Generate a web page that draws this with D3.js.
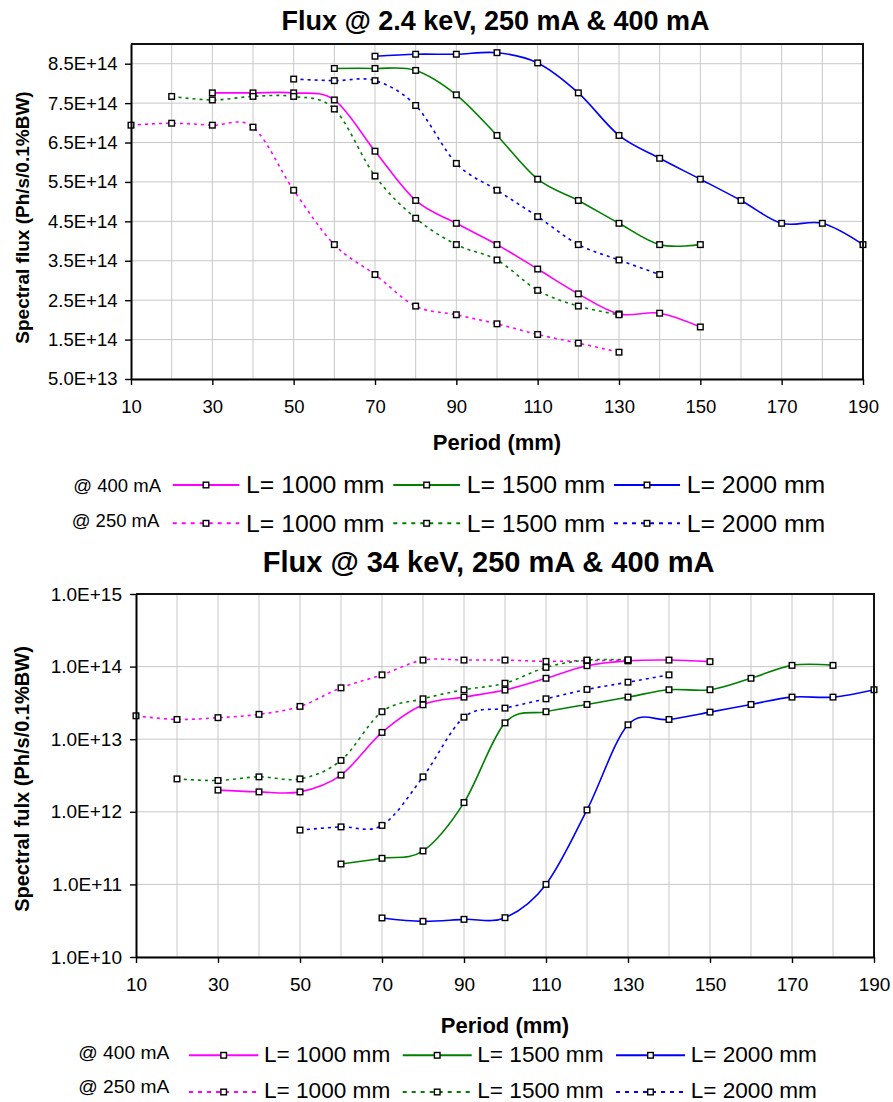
<!DOCTYPE html>
<html>
<head>
<meta charset="utf-8">
<script src="https://cdn.jsdelivr.net/npm/d3@7"></script>
<style>
  html, body { margin: 0; padding: 0; background: #fff; }
  svg { display: block; font-family: "Liberation Sans", Arial, Helvetica, sans-serif; }
</style>
</head>
<body>
<svg id="chart" width="893" height="1102"></svg>
<script>
// ---------- Flux @ 2.4 keV (Ph/s/0.1%BW) ----------
const lowPeriod400L1000 = [30, 40, 50, 60, 70, 80, 90, 100, 110, 120, 130, 140, 150];
const lowFlux400L1000   = [7.76e14, 7.76e14, 7.76e14, 7.58e14, 6.28e14, 5.03e14, 4.45e14, 3.91e14, 3.29e14, 2.66e14, 2.15e14, 2.17e14, 1.82e14];
const lowPeriod400L1500 = [60, 70, 80, 90, 100, 110, 120, 130, 140, 150];
const lowFlux400L1500   = [8.38e14, 8.38e14, 8.33e14, 7.71e14, 6.68e14, 5.57e14, 5.03e14, 4.45e14, 3.91e14, 3.91e14];
const lowPeriod400L2000 = [70, 80, 90, 100, 110, 120, 130, 140, 150, 160, 170, 180, 190];
const lowFlux400L2000   = [8.69e14, 8.74e14, 8.74e14, 8.78e14, 8.52e14, 7.76e14, 6.68e14, 6.10e14, 5.57e14, 5.03e14, 4.45e14, 4.45e14, 3.91e14];
const lowPeriod250L1000 = [10, 20, 30, 40, 50, 60, 70, 80, 90, 100, 110, 120, 130];
const lowFlux250L1000   = [6.94e14, 6.99e14, 6.94e14, 6.89e14, 5.29e14, 3.91e14, 3.15e14, 2.35e14, 2.13e14, 1.90e14, 1.63e14, 1.41e14, 1.18e14];
const lowPeriod250L1500 = [20, 30, 40, 50, 60, 70, 80, 90, 100, 110, 120, 130];
const lowFlux250L1500   = [7.67e14, 7.58e14, 7.67e14, 7.67e14, 7.35e14, 5.65e14, 4.58e14, 3.91e14, 3.52e14, 2.75e14, 2.35e14, 2.13e14];
const lowPeriod250L2000 = [50, 60, 70, 80, 90, 100, 110, 120, 130, 140];
const lowFlux250L2000   = [8.11e14, 8.07e14, 8.07e14, 7.44e14, 5.97e14, 5.29e14, 4.62e14, 3.91e14, 3.52e14, 3.15e14];

// ---------- Flux @ 34 keV (Ph/s/0.1%BW) ----------
const highPeriod400L1000 = [30, 40, 50, 60, 70, 80, 90, 100, 110, 120, 130, 140, 150];
const highFlux400L1000   = [1.99e12, 1.88e12, 1.88e12, 3.2e12, 1.24e13, 2.98e13, 3.8e13, 4.75e13, 6.9e13, 1.03e14, 1.2e14, 1.23e14, 1.17e14];
const highPeriod400L1500 = [60, 70, 80, 90, 100, 110, 120, 130, 140, 150, 160, 170, 180];
const highFlux400L1500   = [1.91e11, 2.29e11, 2.89e11, 1.34e12, 1.68e13, 2.39e13, 3.01e13, 3.8e13, 4.8e13, 4.8e13, 6.9e13, 1.04e14, 1.04e14];
const highPeriod400L2000 = [70, 80, 90, 100, 110, 120, 130, 140, 150, 160, 170, 180, 190];
const highFlux400L2000   = [3.45e10, 3.1e10, 3.3e10, 3.48e10, 1.0e11, 1.06e12, 1.58e13, 1.87e13, 2.36e13, 3.01e13, 3.8e13, 3.8e13, 4.8e13];
const highPeriod250L1000 = [10, 20, 30, 40, 50, 60, 70, 80, 90, 100, 110, 120, 130];
const highFlux250L1000   = [2.1e13, 1.87e13, 1.98e13, 2.2e13, 2.83e13, 5.1e13, 7.7e13, 1.23e14, 1.23e14, 1.23e14, 1.18e14, 1.21e14, 1.22e14];
const highPeriod250L1500 = [20, 30, 40, 50, 60, 70, 80, 90, 100, 110, 120, 130];
const highFlux250L1500   = [2.84e12, 2.7e12, 3.03e12, 2.84e12, 5.1e12, 2.39e13, 3.6e13, 4.8e13, 5.9e13, 9.75e13, 1.23e14, 1.24e14];
const highPeriod250L2000 = [50, 60, 70, 80, 90, 100, 110, 120, 130, 140];
const highFlux250L2000   = [5.6e11, 6.2e11, 6.5e11, 3.03e12, 2.01e13, 2.68e13, 3.6e13, 4.85e13, 6.1e13, 7.7e13];

// ---------- axes ----------
const periodTicks = [10, 30, 50, 70, 90, 110, 130, 150, 170, 190];
const periodGrid  = [20, 30, 40, 50, 60, 70, 80, 90, 100, 110, 120, 130, 140, 150, 160, 170, 180];
const lowFluxTicks  = [5e13, 1.5e14, 2.5e14, 3.5e14, 4.5e14, 5.5e14, 6.5e14, 7.5e14, 8.5e14];
const highFluxTicks = [1e10, 1e11, 1e12, 1e13, 1e14, 1e15];

// ---------- legend ----------
const lengthLabels = ["L= 1000 mm", "L= 1500 mm", "L= 2000 mm"];
const currentLabels = ["@ 400 mA", "@ 250 mA"];

const MAGENTA = "#ff00ff", GREEN = "#008000", BLUE = "#0000ff";
const DOTS = "3,4";
const lengthColors = [MAGENTA, GREEN, BLUE];

const zip = (ps, vs) => ps.map((p, i) => ({ p, v: vs[i] }));

const svg = d3.select("#chart");

function drawChart(cfg) {
  const g = svg.append("g");
  const x = d3.scaleLinear().domain([10, 190]).range([cfg.left, cfg.right]);
  const y = (cfg.log ? d3.scaleLog() : d3.scaleLinear())
    .domain(cfg.yDomain).range([cfg.bottom, cfg.top]);

  const clipId = "clip-" + cfg.id;
  svg.append("defs").append("clipPath").attr("id", clipId)
    .append("rect").attr("x", cfg.left).attr("y", cfg.top)
    .attr("width", cfg.right - cfg.left).attr("height", cfg.bottom - cfg.top);

  // grid
  g.append("g").selectAll("line").data(periodGrid).join("line")
    .attr("x1", d => x(d)).attr("x2", d => x(d))
    .attr("y1", cfg.top).attr("y2", cfg.bottom)
    .attr("stroke", "#c8c8c8").attr("stroke-width", 1);
  g.append("g").selectAll("line").data(cfg.yTicks).join("line")
    .attr("x1", cfg.left).attr("x2", cfg.right)
    .attr("y1", d => y(d)).attr("y2", d => y(d))
    .attr("stroke", "#c8c8c8").attr("stroke-width", 1);

  // series
  const line = d3.line().x(d => x(d.p)).y(d => y(d.v)).curve(d3.curveCatmullRom.alpha(0));
  const sg = g.append("g").attr("clip-path", `url(#${clipId})`);
  cfg.series.forEach(s => {
    const pts = zip(s.period, s.flux);
    sg.append("path").datum(pts).attr("d", line)
      .attr("fill", "none").attr("stroke", s.color).attr("stroke-width", 1.6)
      .attr("stroke-dasharray", s.dashed ? DOTS : null);
  });
  cfg.series.forEach(s => {
    const pts = zip(s.period, s.flux);
    g.append("g").selectAll("rect").data(pts).join("rect")
      .attr("x", d => x(d.p) - 2.8).attr("y", d => y(d.v) - 2.8)
      .attr("width", 5.6).attr("height", 5.6)
      .attr("fill", "#fff").attr("stroke", "#000").attr("stroke-width", 1.4);
  });

  // frame (top / right)
  g.append("path")
    .attr("d", `M${cfg.left},${cfg.top}H${cfg.right}V${cfg.bottom}`)
    .attr("fill", "none").attr("stroke", "#111").attr("stroke-width", 2);

  // axes
  const xAxis = d3.axisBottom(x).tickValues(periodTicks).tickFormat(d3.format("d"))
    .tickSize(6).tickSizeOuter(0).tickPadding(15);
  const yAxis = d3.axisLeft(y).tickValues(cfg.yTicks)
    .tickFormat(v => v.toExponential(1).toUpperCase())
    .tickSize(6).tickSizeOuter(0).tickPadding(cfg.yPad);

  const gx = g.append("g").attr("transform", `translate(0,${cfg.bottom})`).call(xAxis);
  const gy = g.append("g").attr("transform", `translate(${cfg.left},0)`).call(yAxis);
  [gx, gy].forEach(a => {
    a.select(".domain").attr("stroke", "#000").attr("stroke-width", 2);
    a.selectAll(".tick line").attr("stroke", "#000").attr("stroke-width", 1.4);
    a.selectAll(".tick text").attr("fill", "#000").attr("font-family", null);
  });
  gx.attr("font-size", cfg.tickSize);
  gy.attr("font-size", cfg.tickSize);

  // titles
  g.append("text").attr("x", cfg.titleX).attr("y", cfg.titleY)
    .attr("text-anchor", "middle").attr("font-weight", "bold")
    .attr("font-size", cfg.titleSize).text(cfg.title);
  g.append("text").attr("x", (cfg.left + cfg.right) / 2).attr("y", cfg.xLabelY)
    .attr("text-anchor", "middle").attr("font-weight", "bold")
    .attr("font-size", 22).text("Period (mm)");
  g.append("text")
    .attr("transform", `translate(${cfg.yLabelX},${cfg.yLabelMid}) rotate(-90)`)
    .attr("text-anchor", "middle").attr("font-weight", "bold")
    .attr("font-size", cfg.yLabelSize).text(cfg.yLabel);

  // legend
  const L = cfg.legend;
  currentLabels.forEach((lab, r) => {
    g.append("text").attr("x", L.rowLabelX[r]).attr("y", L.rowLabelBase[r])
      .attr("font-size", L.rowLabelSize).text(lab);
    lengthLabels.forEach((txt, c) => {
      const [a, b] = L.sampleX[c];
      g.append("line").attr("x1", a).attr("x2", b)
        .attr("y1", L.rowY[r]).attr("y2", L.rowY[r])
        .attr("stroke", lengthColors[c]).attr("stroke-width", 2)
        .attr("stroke-dasharray", r === 1 ? "4,5" : null);
      g.append("rect").attr("x", (a + b) / 2 - 2.8).attr("y", L.rowY[r] - 2.8)
        .attr("width", 5.6).attr("height", 5.6)
        .attr("fill", "#fff").attr("stroke", "#000").attr("stroke-width", 1.4);
      g.append("text").attr("x", L.textX[c]).attr("y", L.textBase[r])
        .attr("font-size", L.textSize).text(txt);
    });
  });
}

drawChart({
  id: "low",
  title: "Flux @ 2.4 keV, 250 mA & 400 mA", titleX: 495.5, titleY: 30, titleSize: 27,
  left: 131, right: 863, top: 44, bottom: 379,
  log: false, yDomain: [5e13, 9e14], yTicks: lowFluxTicks, yPad: 7.5, tickSize: 18.5,
  xLabelY: 450,
  yLabel: "Spectral flux (Ph/s/0.1%BW)", yLabelX: 29, yLabelMid: 217.5, yLabelSize: 19,
  series: [
    { period: lowPeriod400L1000, flux: lowFlux400L1000, color: MAGENTA, dashed: false },
    { period: lowPeriod400L1500, flux: lowFlux400L1500, color: GREEN, dashed: false },
    { period: lowPeriod400L2000, flux: lowFlux400L2000, color: BLUE, dashed: false },
    { period: lowPeriod250L1000, flux: lowFlux250L1000, color: MAGENTA, dashed: true },
    { period: lowPeriod250L1500, flux: lowFlux250L1500, color: GREEN, dashed: true },
    { period: lowPeriod250L2000, flux: lowFlux250L2000, color: BLUE, dashed: true }
  ],
  legend: {
    rowY: [485, 523.3], rowLabelX: [73.3, 71.7], rowLabelBase: [491.7, 527.3], rowLabelSize: 18.5,
    sampleX: [[172.7, 239.3], [393.3, 460], [614, 680]], textX: [246, 466.7, 686.7],
    textBase: [493.3, 531.7], textSize: 24.8
  }
});

drawChart({
  id: "high",
  title: "Flux @ 34 keV, 250 mA & 400 mA", titleX: 488.6, titleY: 571.7, titleSize: 29,
  left: 136, right: 874, top: 594, bottom: 957,
  log: true, yDomain: [1e10, 1e15], yTicks: highFluxTicks, yPad: 8, tickSize: 19,
  xLabelY: 1032.7,
  yLabel: "Spectral fulx (Ph/s/0.1%BW)", yLabelX: 29.3, yLabelMid: 779, yLabelSize: 20,
  series: [
    { period: highPeriod400L1000, flux: highFlux400L1000, color: MAGENTA, dashed: false },
    { period: highPeriod400L1500, flux: highFlux400L1500, color: GREEN, dashed: false },
    { period: highPeriod400L2000, flux: highFlux400L2000, color: BLUE, dashed: false },
    { period: highPeriod250L1000, flux: highFlux250L1000, color: MAGENTA, dashed: true },
    { period: highPeriod250L1500, flux: highFlux250L1500, color: GREEN, dashed: true },
    { period: highPeriod250L2000, flux: highFlux250L2000, color: BLUE, dashed: true }
  ],
  legend: {
    rowY: [1055.3, 1092], rowLabelX: [78.3, 78.3], rowLabelBase: [1059.3, 1093.3], rowLabelSize: 19.2,
    sampleX: [[189, 258.3], [402.7, 471.7], [616, 685]], textX: [264, 477.3, 690.7],
    textBase: [1061.5, 1098], textSize: 22.6
  }
});
</script>
</body>
</html>
